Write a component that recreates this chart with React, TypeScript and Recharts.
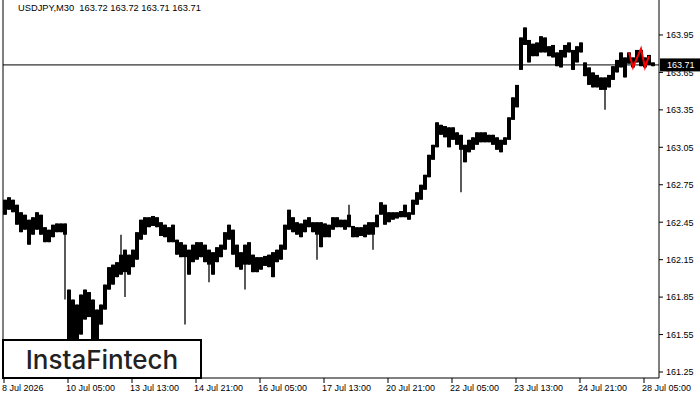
import React from "react";
import { ComposedChart, Bar, Line, XAxis, YAxis, ReferenceLine } from "recharts";

// USDJPY M30 in 2-hour slots (4px each)
const highs = [
  162.63, 162.65, 162.63, 162.59, 162.53, 162.51, 162.47, 162.49, 162.53, 162.51,
  162.41, 162.39, 162.43, 162.44, 162.44, 162.44, 161.91, 161.83, 161.79, 161.87,
  161.91, 161.89, 161.83, 161.75, 161.79, 161.95, 162.09, 162.11, 162.13, 162.19,
  162.23, 162.19, 162.23, 162.37, 162.47, 162.49, 162.49, 162.5, 162.49, 162.45,
  162.43, 162.41, 162.43, 162.31, 162.29, 162.27, 162.23, 162.27, 162.29, 162.29,
  162.27, 162.23, 162.21, 162.25, 162.27, 162.37, 162.43, 162.39, 162.27, 162.21,
  162.27, 162.29, 162.19, 162.17, 162.17, 162.18, 162.19, 162.21, 162.23, 162.27,
  162.43, 162.55, 162.49, 162.45, 162.44, 162.47, 162.49, 162.45, 162.45, 162.45,
  162.44, 162.43, 162.49, 162.49, 162.47, 162.47, 162.51, 162.42, 162.41, 162.41,
  162.43, 162.45, 162.45, 162.51, 162.61, 162.59, 162.53, 162.53, 162.53, 162.54,
  162.59, 162.53, 162.63, 162.69, 162.75, 162.83, 162.99, 163.07, 163.25, 163.23,
  163.22, 163.21, 163.21, 163.17, 163.15, 163.07, 163.11, 163.13, 163.17, 163.17,
  163.17, 163.15, 163.15, 163.13, 163.11, 163.13, 163.29, 163.45, 163.55, 163.93,
  164.01, 163.91, 163.88, 163.89, 163.94, 163.93, 163.86, 163.87, 163.81, 163.83,
  163.87, 163.89, 163.83, 163.86, 163.89, 163.73, 163.69, 163.65, 163.63, 163.61,
  163.61, 163.63, 163.7, 163.75, 163.81, 163.77, 163.81, 163.77, 163.83, 163.83,
  163.77, 163.79, 163.73,
];

const lows = [
  162.51, 162.55, 162.53, 162.43, 162.37, 162.39, 162.27, 162.35, 162.39, 162.35,
  162.29, 162.29, 162.33, 162.37, 162.37, 162.35, 161.47, 161.47, 161.47, 161.55,
  161.67, 161.69, 161.47, 161.47, 161.63, 161.75, 161.91, 161.95, 162.01, 162.03,
  162.05, 162.03, 162.09, 162.15, 162.31, 162.35, 162.41, 162.42, 162.41, 162.34,
  162.33, 162.29, 162.29, 162.19, 162.17, 162.17, 162.03, 162.13, 162.15, 162.17,
  162.13, 162.11, 162.03, 162.13, 162.17, 162.23, 162.31, 162.19, 162.09, 162.07,
  162.11, 162.11, 162.05, 162.05, 162.07, 162.1, 162.09, 162.01, 162.13, 162.15,
  162.23, 162.39, 162.37, 162.35, 162.33, 162.37, 162.41, 162.37, 162.35, 162.25,
  162.33, 162.33, 162.39, 162.41, 162.41, 162.39, 162.41, 162.33, 162.33, 162.34,
  162.33, 162.35, 162.35, 162.41, 162.51, 162.43, 162.45, 162.47, 162.48, 162.49,
  162.49, 162.47, 162.51, 162.59, 162.63, 162.71, 162.81, 162.95, 163.05, 163.15,
  163.13, 163.05, 163.11, 163.07, 163.03, 162.93, 163.01, 163.03, 163.07, 163.09,
  163.09, 163.09, 163.07, 163.03, 163.01, 163.07, 163.11, 163.27, 163.37, 163.67,
  163.87, 163.73, 163.78, 163.78, 163.81, 163.81, 163.78, 163.77, 163.7, 163.69,
  163.77, 163.81, 163.67, 163.73, 163.81, 163.62, 163.55, 163.53, 163.53, 163.51,
  163.51, 163.53, 163.59, 163.65, 163.69, 163.61, 163.72, 163.69, 163.73, 163.7,
  163.69, 163.71, 163.7,
];

// single-bar wicks that stick out of the band: [slot, price]
const spikes: [number, number][] = [
  [15, 161.83], [29, 162.35], [30, 161.85], [45, 161.63], [51, 161.97],
  [60, 161.91], [78, 162.15], [86, 162.59], [92, 162.23], [114, 162.69], [150, 163.35],
];

// red pattern zigzag: [slot, price]
const pattern: [number, number][] = [
  [156, 163.81], [157, 163.69], [159, 163.84], [160, 163.69], [161, 163.78],
];

const timeLabels = [
  "8 Jul 2026", "10 Jul 05:00", "13 Jul 13:00", "14 Jul 21:00", "16 Jul 05:00",
  "17 Jul 13:00", "20 Jul 21:00", "22 Jul 05:00", "23 Jul 13:00", "24 Jul 21:00", "28 Jul 05:00",
];
const tickSlots = [0, 16, 32, 48, 64, 80, 96, 112, 128, 144, 160];
const priceTicks = [161.25, 161.55, 161.85, 162.15, 162.45, 162.75, 163.05, 163.35, 163.65, 163.95];
const lastPrice = 163.71;
const ohlc = [163.72, 163.72, 163.71, 163.71];

const SLOTS = 164;
const spikeMap = new Map(spikes);
const patternMap = new Map(pattern);

const data = Array.from({ length: SLOTS }, (_, i) => {
  if (i >= highs.length) return { slot: i };
  const hi = highs[i];
  const lo = lows[i];
  const sp = spikeMap.get(i);
  const top = sp !== undefined ? Math.max(hi, sp) : hi;
  const bot = sp !== undefined ? Math.min(lo, sp) : lo;
  return { slot: i, range: [bot, top], body: [lo, hi], pattern: patternMap.get(i) ?? null };
});

const FONT = "'Liberation Sans', Arial, sans-serif";

const BarShape = (props: any) => {
  const { x, y, width, height, payload } = props;
  if (!payload || !payload.range) return null;
  const top = Math.min(y, y + height);
  const h = Math.abs(height);
  const [bot, hi] = payload.range;
  const k = h / (hi - bot || 1);
  const bTop = top + (hi - payload.body[1]) * k;
  const bH = Math.max((payload.body[1] - payload.body[0]) * k, 1);
  const cx = x + width / 2;
  return (
    <g>
      <line x1={cx} x2={cx} y1={top} y2={top + h} stroke="#000" strokeWidth={1.3} />
      <rect x={x} y={bTop} width={width} height={bH} fill="#000" />
    </g>
  );
};

const TimeTick = (props: any) => {
  const { x, y, payload } = props;
  const label = timeLabels[tickSlots.indexOf(payload.value)];
  return (
    <g>
      <line x1={x - 1} x2={x - 1} y1={y} y2={y + 5} stroke="#000" />
      <text x={x - 3} y={y + 13} fontSize={9} fontFamily={FONT} fill="#000" textAnchor="start">
        {label}
      </text>
    </g>
  );
};

const PriceTick = (props: any) => {
  const { x, y, payload } = props;
  const v = payload.value;
  if (v === lastPrice) {
    return (
      <g>
        <rect x={x + 1} y={y - 6.5} width={41} height={13} fill="#000" />
        <text x={x + 8} y={y + 3.3} fontSize={9} fontFamily={FONT} fill="#fff">
          {v.toFixed(2)}
        </text>
      </g>
    );
  }
  return (
    <g>
      <line x1={x} x2={x + 4} y1={y} y2={y} stroke="#000" />
      <text x={x + 7} y={y + 3.3} fontSize={9} fontFamily={FONT} fill="#000">
        {v.toFixed(2)}
      </text>
    </g>
  );
};

export default function App() {
  return (
    <div style={{ position: "relative", width: 700, height: 400, background: "#fff" }}>
      <style>{`body{margin:0}`}</style>
      <ComposedChart
        width={700}
        height={400}
        data={data}
        margin={{ top: 0, right: 0, bottom: 0, left: 0 }}
        barCategoryGap={0}
      >
        <XAxis
          dataKey="slot"
          type="category"
          ticks={tickSlots}
          interval={0}
          height={22}
          tickSize={0}
          tickMargin={0}
          tickLine={false}
          axisLine={{ stroke: "#000" }}
          tick={<TimeTick />}
        />
        <YAxis
          orientation="right"
          domain={[161.202, 164.23]}
          allowDataOverflow
          ticks={[...priceTicks, lastPrice]}
          interval={0}
          width={41}
          tickSize={0}
          tickMargin={0}
          tickLine={false}
          axisLine={{ stroke: "#000" }}
          tick={<PriceTick />}
        />
        <YAxis
          yAxisId="edge"
          orientation="left"
          width={3}
          tick={false}
          tickLine={false}
          axisLine={{ stroke: "#000" }}
        />
        <ReferenceLine y={lastPrice} stroke="#000" strokeWidth={1} />
        <Bar dataKey="range" shape={<BarShape />} isAnimationActive={false} />
        <Line
          dataKey="pattern"
          stroke="#ff0000"
          strokeWidth={2}
          dot={false}
          connectNulls
          isAnimationActive={false}
        />
      </ComposedChart>
      <div
        style={{
          position: "absolute",
          left: 18,
          top: 3,
          fontFamily: FONT,
          fontSize: 9.3,
          color: "#000",
          whiteSpace: "pre",
        }}
      >
        {`USDJPY,M30  ${ohlc.map((v) => v.toFixed(2)).join(" ")}`}
      </div>
      <div
        style={{
          position: "absolute",
          left: 2,
          top: 339,
          width: 200,
          height: 40,
          boxSizing: "border-box",
          border: "2px solid #000",
          background: "#fff",
          display: "flex",
          alignItems: "center",
          justifyContent: "center",
          fontFamily: "Inter, 'Noto Sans', sans-serif",
          fontWeight: 500,
          fontSize: 26,
          color: "#222",
        }}
      >
        InstaFintech
      </div>
    </div>
  );
}
